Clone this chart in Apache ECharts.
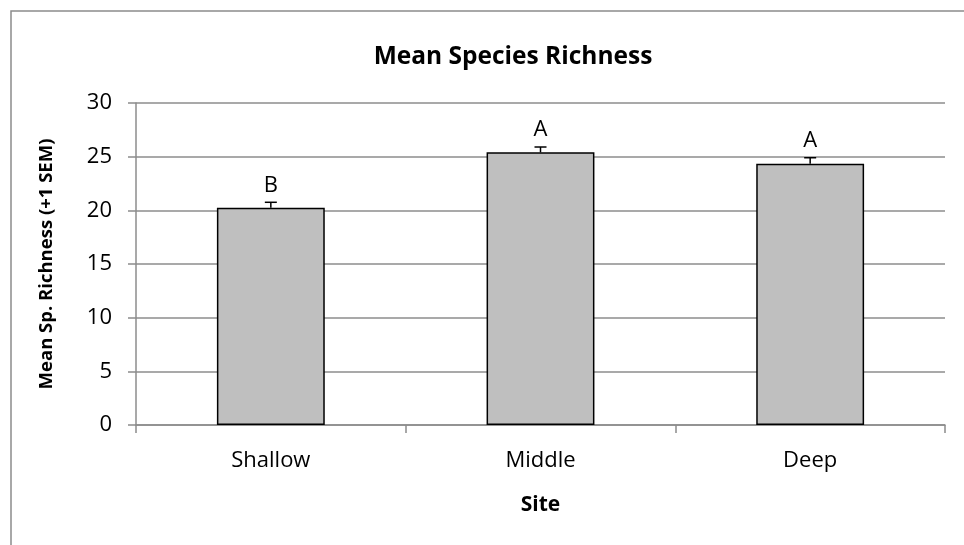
<!DOCTYPE html>
<html>
<head>
<meta charset="utf-8">
<script src="https://cdn.jsdelivr.net/npm/echarts@6/dist/echarts.min.js"></script>
<style>
  html, body { margin: 0; padding: 0; background: #ffffff; }
  #chart { width: 964px; height: 545px; }
</style>
</head>
<body>
<div id="chart"></div>
<script>
// Mean species richness per site, with one standard error and group letters
const sites = ['Shallow', 'Middle', 'Deep'];
const meanRichness = [20.25, 25.4, 24.35];
const semRichness = [0.5, 0.5, 0.55];
const groupLetters = ['B', 'A', 'A'];

const FONT = '"Open Sans", sans-serif';
const GRID_COLOR = '#8c8c8c';

const chart = echarts.init(document.getElementById('chart'), null, { renderer: 'canvas' });

const errorData = sites.map((s, i) => [i, meanRichness[i], meanRichness[i] + semRichness[i]]);

chart.setOption({
  backgroundColor: '#ffffff',
  animation: false,
  title: {
    text: 'Mean Species Richness',
    left: 508,
    textAlign: 'center',
    top: 40,
    textStyle: { fontFamily: FONT, fontSize: 24.5, fontWeight: 'bold', color: '#000' }
  },
  grid: { left: 136, right: 19, top: 103, bottom: 120 },
  xAxis: {
    type: 'category',
    data: sites,
    name: 'Site',
    nameLocation: 'middle',
    nameGap: 70,
    nameTextStyle: { fontFamily: FONT, fontSize: 21, fontWeight: 'bold', color: '#000' },
    axisLine: { lineStyle: { color: GRID_COLOR, width: 1.5 } },
    axisTick: { show: true, length: 8, inside: false, lineStyle: { color: GRID_COLOR, width: 1.5 } },
    axisLabel: { fontFamily: FONT, fontSize: 22, color: '#000', margin: 25 }
  },
  yAxis: {
    type: 'value',
    min: 0,
    max: 30,
    interval: 5,
    name: 'Mean Sp. Richness (+1 SEM)',
    nameLocation: 'middle',
    nameGap: 80,
    nameRotate: 90,
    nameTextStyle: { fontFamily: FONT, fontSize: 18.5, fontWeight: 'bold', color: '#000' },
    axisLine: { show: true, lineStyle: { color: GRID_COLOR, width: 1.5 } },
    axisTick: { show: true, length: 8, lineStyle: { color: GRID_COLOR, width: 1.5 } },
    axisLabel: { fontFamily: FONT, fontSize: 22, color: '#000', margin: 24 },
    splitLine: { show: true, lineStyle: { color: GRID_COLOR, width: 1.5 } }
  },
  graphic: [{
    type: 'rect',
    shape: { x: 11, y: 11, width: 1000, height: 600 },
    style: { fill: 'none', stroke: '#8c8c8c', lineWidth: 1.5 },
    silent: true,
    z: 100
  }],
  series: [
    {
      type: 'bar',
      data: meanRichness,
      barWidth: '40%',
      itemStyle: { color: '#bfbfbf', borderColor: '#000', borderWidth: 1.5 },
      z: 2
    },
    {
      type: 'custom',
      data: errorData,
      z: 3,
      renderItem: function (params, api) {
        const x = api.value(0);
        const base = api.coord([x, api.value(1)]);
        const top = api.coord([x, api.value(2)]);
        const half = 6;
        const st = { stroke: '#000', lineWidth: 1.5 };
        return {
          type: 'group',
          children: [
            { type: 'line', shape: { x1: base[0], y1: base[1], x2: top[0], y2: top[1] }, style: st },
            { type: 'line', shape: { x1: top[0] - half, y1: top[1], x2: top[0] + half, y2: top[1] }, style: st }
          ]
        };
      }
    },
    {
      type: 'custom',
      data: errorData.map((d, i) => [d[0], d[2], groupLetters[i]]),
      z: 4,
      renderItem: function (params, api) {
        const p = api.coord([api.value(0), api.value(1)]);
        return {
          type: 'text',
          x: p[0],
          y: p[1] - 6,
          style: {
            text: groupLetters[params.dataIndex],
            fontFamily: FONT,
            fontSize: 22,
            fill: '#000',
            align: 'center',
            verticalAlign: 'bottom'
          }
        };
      }
    }
  ]
});
</script>
</body>
</html>
